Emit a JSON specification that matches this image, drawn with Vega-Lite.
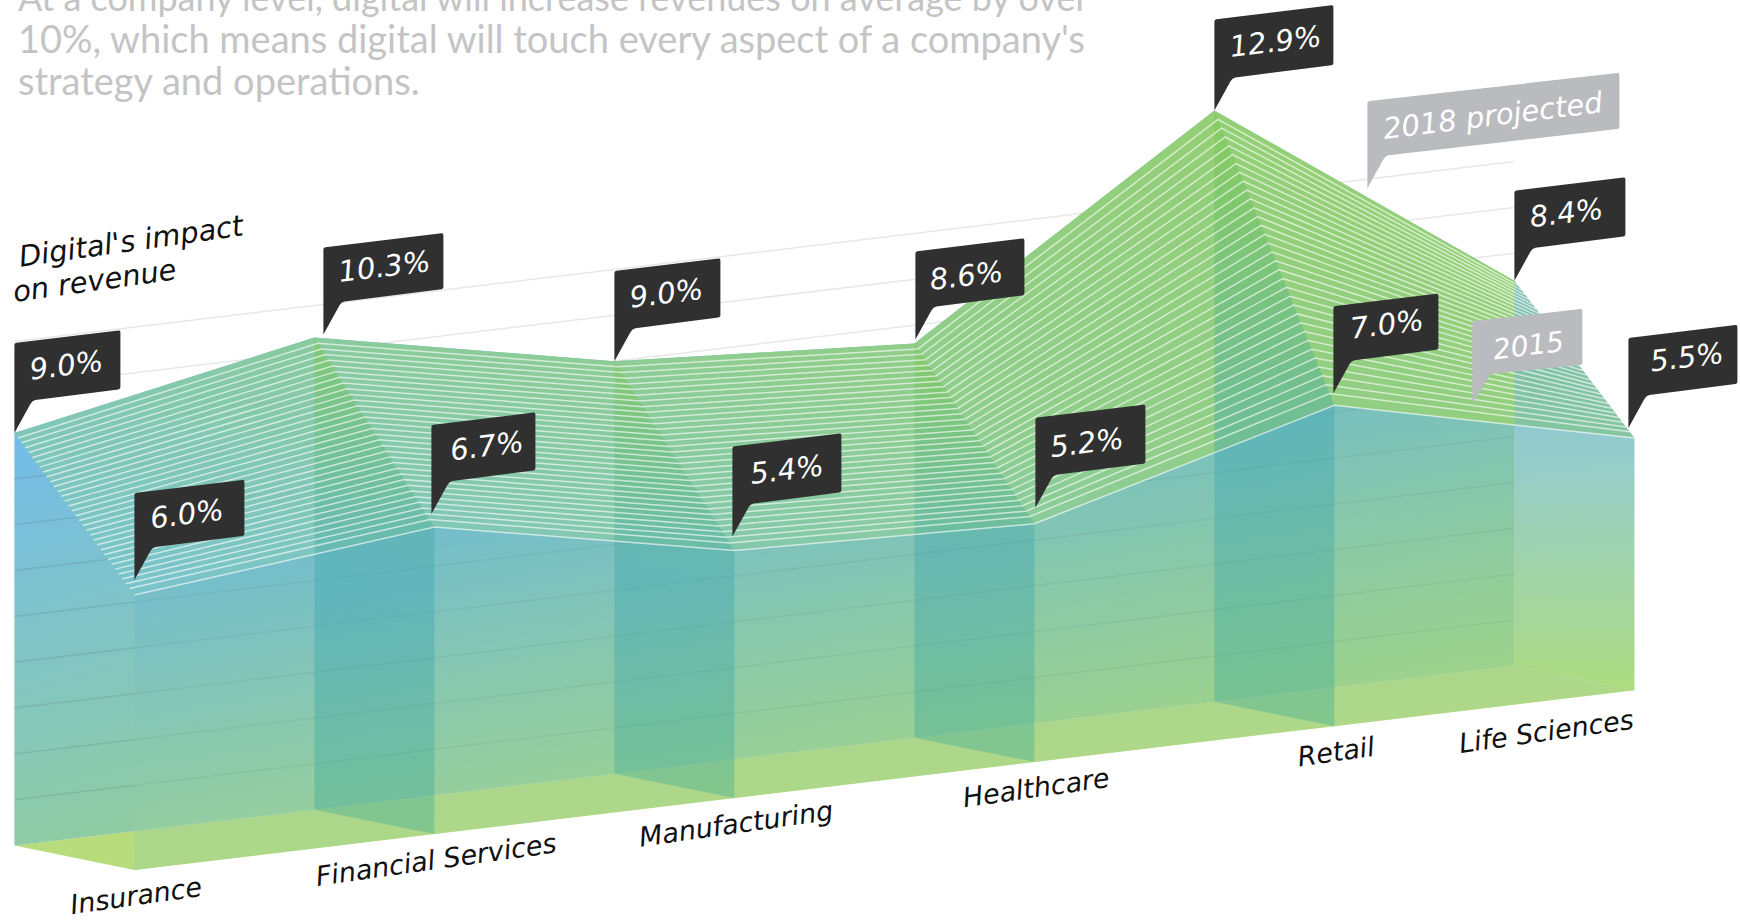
{
  "$schema": "https://vega.github.io/schema/vega-lite/v6.json",
  "width": 1740,
  "height": 920,
  "padding": 0,
  "autosize": {"type": "none"},
  "background": "white",
  "config": {"view": {"stroke": null}},
  "title": {
    "text": "At a company level, digital will increase revenues on average by over",
    "subtitle": ["10%, which means digital will touch every aspect of a company's", "strategy and operations."],
    "anchor": "start",
    "frame": "group",
    "dx": 18,
    "offset": -104,
    "font": "Lato",
    "fontSize": 36,
    "fontWeight": 400,
    "color": "#c4c4c4",
    "subtitleFont": "Lato",
    "subtitleFontSize": 38,
    "subtitleFontWeight": 400,
    "subtitleColor": "#c4c4c4",
    "subtitleLineHeight": 42,
    "subtitlePadding": 4
  },
  "data": {"values": [
    {"industry": "Insurance", "pos": 0, "year": 2018, "value": 9.0},
    {"industry": "Financial Services", "pos": 1, "year": 2018, "value": 10.3},
    {"industry": "Manufacturing", "pos": 2, "year": 2018, "value": 9.0},
    {"industry": "Healthcare", "pos": 3, "year": 2018, "value": 8.6},
    {"industry": "Retail", "pos": 4, "year": 2018, "value": 12.9},
    {"industry": "Life Sciences", "pos": 5, "year": 2018, "value": 8.4},
    {"industry": "Insurance", "pos": 0, "year": 2015, "value": 6.0},
    {"industry": "Financial Services", "pos": 1, "year": 2015, "value": 6.7},
    {"industry": "Manufacturing", "pos": 2, "year": 2015, "value": 5.4},
    {"industry": "Healthcare", "pos": 3, "year": 2015, "value": 5.2},
    {"industry": "Retail", "pos": 4, "year": 2015, "value": 7.0},
    {"industry": "Life Sciences", "pos": 5, "year": 2015, "value": 5.5}
  ]},
  "transform": [
    {"calculate": "datum.year === 2015 ? 1 : 0", "as": "depth"},
    {"calculate": "datum.pos + 0.4 * datum.depth", "as": "sx"},
    {"calculate": "0.785 * datum.pos - 0.533 * datum.depth", "as": "base"},
    {"calculate": "datum.value + datum.base", "as": "sy"},
    {"calculate": "format(datum.value, '.1f') + '%'", "as": "label"},
    {"calculate": "datum.depth === 0 ? datum.pos : 11 - datum.pos", "as": "ring"}
  ],
  "encoding": {
    "x": {"field": "sx", "type": "quantitative", "scale": {"domain": [-0.048, 5.752], "nice": false, "zero": false}, "axis": null},
    "y": {"field": "sy", "type": "quantitative", "scale": {"domain": [-1.623, 18.45], "nice": false, "zero": false}, "axis": null}
  },
  "layer": [
    {
      "description": "floor between the two base lines",
      "transform": [{"calculate": "datum.base", "as": "sy"}],
      "mark": {"type": "line", "interpolate": "linear-closed", "fill": "#b8dc7c", "strokeWidth": 0},
      "encoding": {"order": {"field": "ring", "type": "quantitative"}}
    },
    {
      "description": "2018 wall",
      "transform": [{"filter": "datum.year === 2018"}],
      "mark": {"type": "area", "fillOpacity": 0.8, "fill": {"gradient": "linear", "x1": 0, "y1": 0.4, "x2": 0.45, "y2": 1.15, "stops": [{"offset": 0, "color": "#4eaaea"}, {"offset": 1, "color": "#8acc50"}]}},
      "encoding": {"y2": {"field": "base"}}
    },
    {
      "description": "one-point gridlines on the 2018 wall",
      "data": {"values": [{"level": 1}, {"level": 2}, {"level": 3}, {"level": 4}, {"level": 5}, {"level": 6}, {"level": 7}, {"level": 8}, {"level": 9}, {"level": 10}, {"level": 11}]},
      "transform": [
        {"calculate": "[0, 5]", "as": "sx"},
        {"flatten": ["sx"]},
        {"calculate": "datum.level + 0.785 * datum.sx", "as": "sy"}
      ],
      "mark": {"type": "line", "stroke": "#20302a", "strokeOpacity": 0.11, "strokeWidth": 1.5},
      "encoding": {"detail": {"field": "level"}}
    },
    {
      "description": "2015 wall",
      "transform": [{"filter": "datum.year === 2015"}],
      "mark": {"type": "area", "fill": {"gradient": "linear", "x1": 0, "y1": 0, "x2": 0.45, "y2": 1.1, "stops": [{"offset": 0, "color": "rgba(72,168,238,0.5)"}, {"offset": 1, "color": "rgba(185,222,130,0.4)"}]}},
      "encoding": {"y2": {"field": "base"}}
    },
    {
      "description": "sloped surface joining the 2018 and 2015 profiles",
      "mark": {"type": "line", "interpolate": "linear-closed", "strokeWidth": 0, "fillOpacity": 0.88, "fill": {"gradient": "linear", "x1": 0.8, "y1": 0, "x2": 0.1, "y2": 1, "stops": [{"offset": 0, "color": "#98d263"}, {"offset": 0.5, "color": "#92cf84"}, {"offset": 1, "color": "#78c4cc"}]}},
      "encoding": {"order": {"field": "ring", "type": "quantitative"}}
    },
    {
      "description": "cross-section walls between the first and last industries",
      "transform": [
        {"filter": "datum.industry !== 'Insurance' && datum.industry !== 'Life Sciences'"},
        {"calculate": "[1, 0]", "as": "lift"},
        {"flatten": ["lift"]},
        {"calculate": "datum.lift * datum.value + datum.base", "as": "sy"},
        {"calculate": "datum.depth === 0 ? (datum.lift ? 0 : 3) : (datum.lift ? 1 : 2)", "as": "corner"}
      ],
      "mark": {"type": "line", "interpolate": "linear-closed", "strokeWidth": 0, "fill": {"gradient": "linear", "x1": 0, "y1": 0, "x2": 0, "y2": 1, "stops": [{"offset": 0, "color": "rgba(120,200,60,0.4)"}, {"offset": 0.5, "color": "rgba(50,160,175,0.35)"}, {"offset": 1, "color": "rgba(50,165,150,0.35)"}]}},
      "encoding": {"detail": {"field": "industry"}, "order": {"field": "corner", "type": "quantitative"}}
    },
    {
      "description": "closing cross-section at the last industry",
      "transform": [
        {"filter": "datum.industry === 'Life Sciences'"},
        {"calculate": "[1, 0]", "as": "lift"},
        {"flatten": ["lift"]},
        {"calculate": "datum.lift * datum.value + datum.base", "as": "sy"},
        {"calculate": "datum.depth === 0 ? (datum.lift ? 0 : 3) : (datum.lift ? 1 : 2)", "as": "corner"}
      ],
      "mark": {"type": "line", "interpolate": "linear-closed", "strokeWidth": 0, "fill": {"gradient": "linear", "x1": 0, "y1": 0, "x2": 0, "y2": 1, "stops": [{"offset": 0, "color": "rgba(85,165,215,0.55)"}, {"offset": 0.45, "color": "rgba(110,185,175,0.5)"}, {"offset": 1, "color": "rgba(150,210,80,0.65)"}]}},
      "encoding": {"order": {"field": "corner", "type": "quantitative"}}
    },
    {
      "description": "ruled lines across the sloped surface",
      "transform": [
        {"pivot": "year", "value": "value", "groupby": ["industry", "pos"]},
        {"calculate": "[0.03,0.06,0.09,0.12,0.15,0.18,0.21,0.24,0.27,0.30,0.33,0.36,0.39,0.42,0.45,0.48,0.51,0.54,0.57,0.60,0.63,0.66,0.69,0.72,0.75,0.78,0.81,0.84,0.87,0.90,0.93,0.96,1]", "as": "t"},
        {"flatten": ["t"]},
        {"calculate": "datum.pos + 0.4 * datum.t", "as": "sx"},
        {"calculate": "datum['2018'] + datum.t * (datum['2015'] - datum['2018']) + 0.785 * datum.pos - 0.533 * datum.t", "as": "sy"}
      ],
      "mark": {"type": "line", "stroke": "#ffffff", "strokeOpacity": 0.62, "strokeWidth": 1.5},
      "encoding": {"detail": {"field": "t"}, "order": {"field": "pos", "type": "quantitative"}}
    },
    {
      "description": "value callouts",
      "mark": {"type": "point", "filled": true, "fill": "#303030", "opacity": 1, "strokeWidth": 0},
      "encoding": {
        "size": {"value": 4},
        "shape": {"field": "label", "type": "nominal", "legend": null, "scale": {
          "domain": ["9.0%", "10.3%", "8.6%", "12.9%", "8.4%", "6.0%", "6.7%", "5.4%", "5.2%", "7.0%", "5.5%", "2018 projected", "2015"],
          "range": [
            "M0,0 v-88 q0,-2 2,-2.3 l102,-12.4 q2,-0.3 2,1.7 v55 q0,2 -2,2.3 L21,-33 q-3,0.4 -5,4 Z",
            "M9,-3 v-85 q0,-2 2,-2.3 l116,-14 q2,-0.3 2,1.7 v52 q0,2 -2,2.3 L30,-36 q-3,0.4 -5,4 Z",
            "M1,-4 v-86 q0,-2 2,-2.3 l105,-12.7 q2,-0.3 2,1.7 v53 q0,2 -2,2.3 L22,-37 q-3,0.4 -5,4 Z",
            "M0,0 v-89 q0,-2 2,-2.3 l115,-13.9 q2,-0.3 2,1.7 v56 q0,2 -2,2.3 L21,-33 q-3,0.4 -5,4 Z",
            "M0,0 v-88 q0,-2 2,-2.3 l107,-12.9 q2,-0.3 2,1.7 v55 q0,2 -2,2.3 L21,-33 q-3,0.4 -5,4 Z",
            "M0,-15 v-85 q0,-2 2,-2.3 l106,-12.8 q2,-0.3 2,1.7 v52 q0,2 -2,2.3 L21,-48 q-3,0.4 -5,4 Z",
            "M-3,-13 v-87 q0,-2 2,-2.3 l100,-12.1 q2,-0.3 2,1.7 v54 q0,2 -2,2.3 L18,-46 q-3,0.4 -5,4 Z",
            "M-2,-14 v-88 q0,-2 2,-2.3 l105,-12.7 q2,-0.3 2,1.7 v55 q0,2 -2,2.3 L19,-47 q-3,0.4 -5,4 Z",
            "M1,-16 v-88 q0,-2 2,-2.3 l106,-12.8 q2,-0.3 2,1.7 v55 q0,2 -2,2.3 L22,-49 q-3,0.4 -5,4 Z",
            "M-1,-12 v-85 q0,-2 2,-2.3 l101,-12.2 q2,-0.3 2,1.7 v52 q0,2 -2,2.3 L20,-45 q-3,0.4 -5,4 Z",
            "M-6,-10 v-88 q0,-2 2,-2.3 l105,-12.7 q2,-0.3 2,1.7 v55 q0,2 -2,2.3 L15,-43 q-3,0.4 -5,4 Z",
            "M0,0 v-85 q0,-2 2,-2.3 l248,-28 q2,-0.3 2,1.7 v52 q0,2 -2,2.3 L21,-33 q-3,0.4 -5,4 Z",
            "M0,0 v-80 q0,-2 2,-2.3 l106,-12.2 q2,-0.3 2,1.7 v52 q0,2 -2,2.3 L21,-30 q-3,0.4 -5,4 Z"
          ]
        }}
      }
    },
    {
      "transform": [{"filter": "datum.year === 2018 && datum.value !== 10.3"}],
      "mark": {"type": "text", "font": "DejaVu Sans", "fontWeight": 200, "fontStyle": "italic", "fontSize": 29, "fill": "#ffffff", "angle": -7, "align": "left", "baseline": "middle", "dx": 23, "dy": -60},
      "encoding": {"text": {"field": "label"}}
    },
    {
      "transform": [{"filter": "datum.value === 10.3"}],
      "mark": {"type": "text", "font": "DejaVu Sans", "fontWeight": 200, "fontStyle": "italic", "fontSize": 29, "fill": "#ffffff", "angle": -7, "align": "left", "baseline": "middle", "dx": 32, "dy": -61},
      "encoding": {"text": {"field": "label"}}
    },
    {
      "transform": [{"filter": "datum.year === 2015"}],
      "mark": {"type": "text", "font": "DejaVu Sans", "fontWeight": 200, "fontStyle": "italic", "fontSize": 29, "fill": "#ffffff", "angle": -7, "align": "left", "baseline": "middle", "dx": 25, "dy": -73},
      "encoding": {"text": {"field": "label"}}
    },
    {
      "description": "series flags resting on the two profiles",
      "data": {"values": [
        {"label": "2018 projected", "pos": 4.51, "year": 2018, "value": 10.8},
        {"label": "2015", "pos": 4.46, "year": 2015, "value": 6.68}
      ]},
      "transform": [
        {"calculate": "datum.year === 2015 ? 1 : 0", "as": "depth"},
        {"calculate": "datum.pos + 0.4 * datum.depth", "as": "sx"},
        {"calculate": "datum.value + 0.785 * datum.pos - 0.533 * datum.depth", "as": "sy"}
      ],
      "layer": [
        {
          "mark": {"type": "point", "filled": true, "fill": "#babbbe", "opacity": 1, "strokeWidth": 0},
          "encoding": {
            "size": {"value": 4},
            "shape": {"field": "label", "type": "nominal", "legend": null}
          }
        },
        {
          "transform": [{"filter": "datum.year === 2018"}],
          "mark": {"type": "text", "font": "DejaVu Sans", "fontWeight": 200, "fontStyle": "italic", "fontSize": 29, "fill": "#ffffff", "angle": -7, "align": "left", "baseline": "middle", "dx": 23, "dy": -56},
          "encoding": {"text": {"field": "label"}}
        },
        {
          "transform": [{"filter": "datum.year === 2015"}],
          "mark": {"type": "text", "font": "DejaVu Sans", "fontWeight": 200, "fontStyle": "italic", "fontSize": 28, "fill": "#ffffff", "angle": -7, "align": "left", "baseline": "middle", "dx": 27, "dy": -49},
          "encoding": {"text": {"field": "label"}}
        }
      ]
    },
    {
      "description": "industry names under the front base line",
      "transform": [{"filter": "datum.year === 2015 && datum.industry !== 'Life Sciences'"}, {"calculate": "datum.base", "as": "sy"}],
      "mark": {"type": "text", "font": "DejaVu Sans", "fontStyle": "italic", "fontSize": 27, "fill": "#111111", "angle": -8, "align": "center", "baseline": "middle", "dx": -2, "dy": 27},
      "encoding": {"text": {"field": "industry"}}
    },
    {
      "transform": [{"filter": "datum.year === 2015 && datum.industry === 'Life Sciences'"}, {"calculate": "datum.base", "as": "sy"}],
      "mark": {"type": "text", "font": "DejaVu Sans", "fontStyle": "italic", "fontSize": 27, "fill": "#111111", "angle": -8, "align": "right", "baseline": "middle", "dx": -5, "dy": 30},
      "encoding": {"text": {"field": "industry"}}
    },
    {
      "description": "wall caption",
      "data": {"values": [
        {"note": "Digital's impact", "sx": 0.02, "sy": 12.63},
        {"note": "on revenue", "sx": 0, "sy": 11.86}
      ]},
      "mark": {"type": "text", "font": "DejaVu Sans", "fontStyle": "italic", "fontSize": 29, "fill": "#111111", "angle": -8, "align": "left", "baseline": "alphabetic"},
      "encoding": {"text": {"field": "note"}}
    }
  ]
}
